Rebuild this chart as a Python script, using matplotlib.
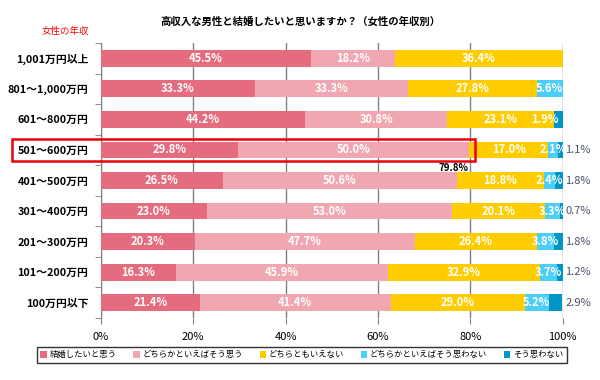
import numpy as np
import matplotlib.pyplot as plt
from matplotlib.patches import Rectangle

plt.rcParams['font.family'] = ['Noto Sans CJK JP', 'DejaVu Sans']

# data (top row first)
categories = ["1,001万円以上", "801～1,000万円", "601～800万円", "501～600万円",
              "401～500万円", "301～400万円", "201～300万円", "101～200万円", "100万円以下"]
series_names = ["結婚したいと思う", "どちらかといえばそう思う", "どちらともいえない",
                "どちらかといえばそう思わない", "そう思わない"]
want = [45.5, 33.3, 44.2, 29.8, 26.5, 23.0, 20.3, 16.3, 21.4]
rather_want = [18.2, 33.3, 30.8, 50.0, 50.6, 53.0, 47.7, 45.9, 41.4]
neutral = [36.4, 27.8, 23.1, 17.0, 18.8, 20.1, 26.4, 32.9, 29.0]
rather_not = [0.0, 5.6, 0.0, 2.1, 2.4, 3.3, 3.8, 3.7, 5.2]
not_want = [0.0, 0.0, 1.9, 1.1, 1.8, 0.7, 1.8, 1.2, 2.9]
highlight = "501～600万円"

colors = ["#E46C7E", "#F0A7B1", "#FFCC00", "#4BCFFA", "#0096C8"]
data = [want, rather_want, neutral, rather_not, not_want]

fig = plt.figure(figsize=(6, 3.8), dpi=100)
ax = fig.add_axes([0.168, 0.163, 0.77, 0.724])

y = np.arange(len(categories))
left = np.zeros(len(categories))
for k, (vals, col, name) in enumerate(zip(data, colors, series_names)):
    vals = np.array(vals)
    ax.barh(y, vals, left=left, height=0.55, color=col, label=name, zorder=3)
    for i, v in enumerate(vals):
        if v <= 0:
            continue
        txt = f"{v:.1f}%"
        if k < 4:
            ax.text(left[i] + v / 2, y[i], txt, ha='center', va='center',
                    color='white', fontsize=8, fontweight='bold', zorder=4)
        elif rather_not[i] == 0 and i != 0:
            # light-blue slot empty: label sits where it would be
            ax.text(left[i] - v / 2 - 1.0, y[i], txt, ha='center', va='center',
                    color='white', fontsize=8, fontweight='bold', zorder=4)
        else:
            ax.text(100.6, y[i], txt, ha='left', va='center',
                    color='#4A5068', fontsize=8, zorder=4)
    left += vals

ax.set_xlim(0, 100)
ax.set_ylim(len(categories) - 0.5, -0.5)
ax.set_yticks(y)
ax.set_yticklabels(categories, fontsize=7.8, fontweight='bold')
ax.set_yticks(np.arange(len(categories) + 1) - 0.5, minor=True)
ax.tick_params(axis='y', which='major', length=0, pad=9)
ax.tick_params(axis='y', which='minor', length=4, color='#808080', direction='out')
ax.set_xticks([0, 20, 40, 60, 80, 100])
ax.set_xticklabels(["0%", "20%", "40%", "60%", "80%", "100%"], fontsize=8)
ax.tick_params(axis='x', length=4, color='#808080', pad=6)
ax.grid(axis='x', color='#808080', linewidth=1, zorder=0)
for s in ['top', 'bottom', 'right']:
    ax.spines[s].set_visible(False)
ax.spines['left'].set_color('#808080')

# highlight box around the 501-600 row
hi = categories.index(highlight)
ax.add_patch(Rectangle((-19.2, hi - 0.36), 100.2, 0.72, fill=False,
                       edgecolor='#E8000B', linewidth=1.8, clip_on=False, zorder=6))
tot = want[hi] + rather_want[hi]
ax.text(tot - 0.3, hi + 0.6, f"{tot:.1f}%", ha='right', va='center',
        fontsize=7, fontweight='bold', color='black', zorder=6)

fig.text(0.5, 0.942, "高収入な男性と結婚したいと思いますか？（女性の年収別）",
         ha='center', va='center', fontsize=7.5, fontweight='bold')
fig.text(0.108, 0.916, "女性の年収", ha='center', va='center', fontsize=6.8, color='#FF0000')

leg = fig.legend(loc='center', bbox_to_anchor=(0.503, 0.066), ncol=5, fontsize=6,
                 frameon=True, fancybox=False, edgecolor='black', handlelength=0.8,
                 handleheight=0.8, handletextpad=0.3, columnspacing=2.0,
                 borderpad=0.4)
leg.get_frame().set_linewidth(1.0)

fig.savefig("out.png", dpi=100)
